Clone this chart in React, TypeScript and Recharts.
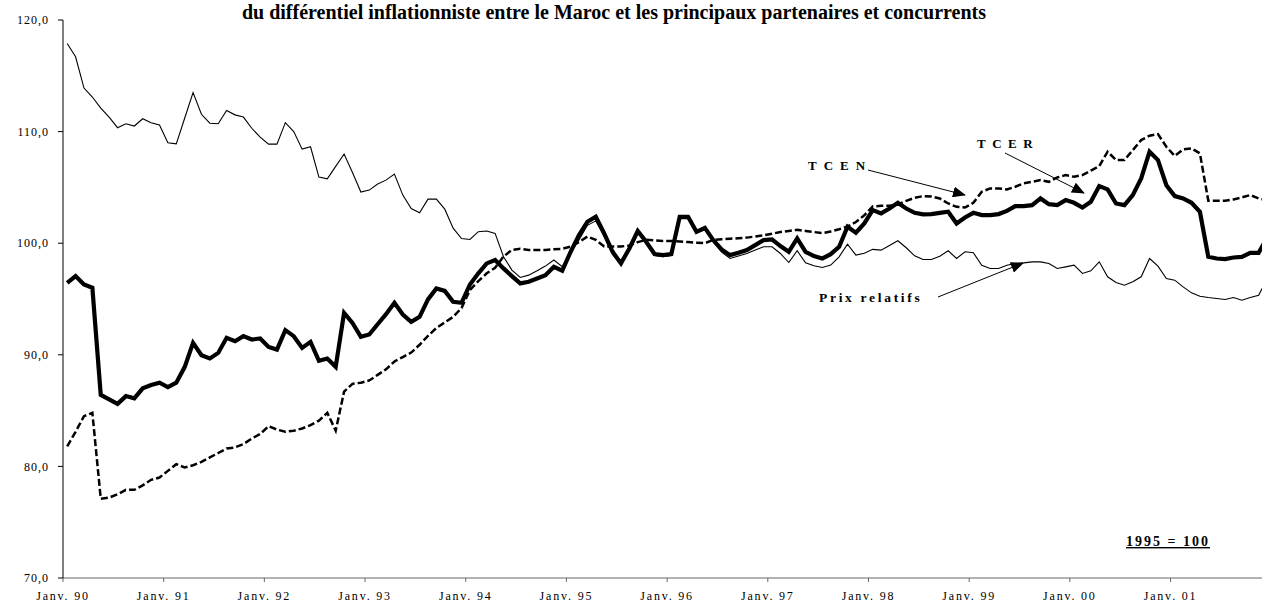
import { LineChart, Line, XAxis, YAxis } from 'recharts';

// Indices mensuels, janv. 1990 -> déc. 2001 (1995 = 100)
const yearLabels = ['90', '91', '92', '93', '94', '95', '96', '97', '98', '99', '00', '01'];

const tcer = [
  96.45, 97.05, 96.3, 96.0, 86.4, 86.0, 85.6, 86.3, 86.1, 87.0, 87.3, 87.5,
  87.1, 87.5, 88.9, 91.07, 89.96, 89.67, 90.17, 91.52, 91.22, 91.67, 91.37, 91.46,
  90.71, 90.47, 92.21, 91.67, 90.62, 91.16, 89.46, 89.67, 88.92, 93.76, 92.86, 91.61,
  91.82, 92.74, 93.64, 94.66, 93.61, 92.95, 93.4, 94.96, 95.94, 95.73, 94.75, 94.66,
  96.3, 97.3, 98.19, 98.49, 97.74, 97.05, 96.4, 96.55, 96.84, 97.14, 97.89, 97.53,
  99.23, 100.73, 101.92, 102.37, 100.88, 99.23, 98.19, 99.53, 101.09, 100.13, 99.03, 98.94,
  99.02, 102.37, 102.37, 101.02, 101.38, 100.28, 99.44, 98.93, 99.14, 99.38, 99.83, 100.28,
  100.34, 99.74, 99.23, 100.43, 99.23, 98.84, 98.63, 99.02, 99.68, 101.47, 100.94, 101.77,
  102.97, 102.67, 103.11, 103.62, 103.11, 102.72, 102.58, 102.61, 102.72, 102.82, 101.77, 102.31,
  102.72, 102.52, 102.52, 102.61, 102.9, 103.32, 103.32, 103.41, 104.01, 103.5, 103.41, 103.86,
  103.62, 103.2, 103.71, 105.12, 104.82, 103.56, 103.41, 104.31, 105.8, 108.2, 107.45, 105.2,
  104.22, 104.01, 103.62, 102.81, 98.78, 98.63, 98.57, 98.72, 98.78, 99.14, 99.14, 100.5,
];

const tcen = [
  81.8, 83.1, 84.5, 84.8, 77.1, 77.2, 77.5, 77.9, 77.9, 78.3, 78.8, 79.0,
  79.6, 80.2, 79.9, 80.1, 80.4, 80.8, 81.2, 81.6, 81.7, 82.0, 82.5, 82.9,
  83.6, 83.3, 83.1, 83.2, 83.4, 83.7, 84.1, 84.8, 83.2, 86.7, 87.4, 87.5,
  87.7, 88.2, 88.7, 89.4, 89.8, 90.2, 90.9, 91.7, 92.4, 92.9, 93.4, 94.2,
  95.8, 96.6, 97.3, 97.8, 98.8, 99.4, 99.5, 99.4, 99.4, 99.4, 99.45, 99.5,
  99.7, 100.1, 100.6, 100.3, 99.7, 99.7, 99.7, 99.8, 100.1, 100.3, 100.25, 100.2,
  100.2, 100.15, 100.1, 100.05, 100.0, 100.3, 100.35, 100.4, 100.45, 100.5, 100.6, 100.7,
  100.85, 101.0, 101.1, 101.2, 101.1, 101.0, 100.9, 101.05, 101.25, 101.5, 101.9, 102.5,
  103.3, 103.35, 103.35, 103.47, 103.8, 104.07, 104.22, 104.19, 104.01, 103.56, 103.26, 103.2,
  103.62, 104.61, 104.91, 104.91, 104.82, 105.06, 105.36, 105.5, 105.65, 105.5, 105.89, 106.1,
  105.95, 106.1, 106.5, 106.91, 108.2, 107.45, 107.45, 108.34, 109.24, 109.63, 109.78, 108.64,
  107.81, 108.4, 108.5, 108.05, 103.8, 103.8, 103.8, 103.92, 104.1, 104.31, 104.01, 103.86,
];

const prixRelatifs = [
  117.9, 116.7, 113.9, 113.1, 112.1, 111.3, 110.35, 110.7, 110.5, 111.15, 110.8, 110.6,
  109.0, 108.9, 111.2, 113.5, 111.55, 110.75, 110.7, 111.9, 111.5, 111.3, 110.3, 109.5,
  108.88, 108.88, 110.8, 110.0, 108.43, 108.64, 105.92, 105.77, 106.88, 107.99, 106.34, 104.58,
  104.76, 105.3, 105.65, 106.19, 104.31, 103.11, 102.73, 103.95, 103.95, 103.05, 101.35, 100.42,
  100.33, 101.03, 101.09, 100.88, 98.79, 97.59, 96.93, 97.14, 97.53, 97.95, 98.49, 97.9,
  99.2, 100.3, 101.6, 102.0, 100.6, 99.0, 98.1, 99.4, 100.9, 100.0, 98.9, 98.8,
  98.9, 102.2, 102.2, 100.9, 101.2, 100.1, 99.2, 98.63, 98.85, 99.08, 99.4, 99.68,
  99.68, 99.08, 98.27, 99.32, 98.24, 97.98, 97.83, 98.04, 98.78, 99.92, 98.93, 99.1,
  99.45, 99.38, 99.8, 100.22, 99.59, 98.87, 98.54, 98.54, 98.84, 99.32, 98.63, 99.23,
  99.14, 98.03, 97.73, 97.73, 98.03, 98.18, 98.24, 98.33, 98.33, 98.18, 97.73, 97.88,
  98.03, 97.29, 97.52, 98.33, 96.99, 96.48, 96.24, 96.54, 96.99, 98.63, 97.94, 96.84,
  96.69, 96.09, 95.55, 95.25, 95.13, 95.04, 94.95, 95.13, 94.89, 95.13, 95.34, 96.8,
];

const yTicks = [70, 80, 90, 100, 110, 120];

const data = tcer.map((v, i) => ({
  i,
  tcer: v,
  tcen: tcen[i],
  prix: prixRelatifs[i],
}));

// ticks on the January boundaries
const xTicks = yearLabels.map((_, k) => k * 12 - 0.5);

const serif = '"Liberation Serif", "Times New Roman", serif';

export default function App() {
  return (
    <div
      style={{
        position: 'absolute',
        left: 0,
        top: 0,
        width: 1262,
        height: 603,
        overflow: 'hidden',
        background: '#fff',
        fontFamily: serif,
      }}
    >
      <LineChart
        width={1262}
        height={603}
        data={data}
        margin={{ top: 20, right: 0, bottom: 0, left: 0 }}
      >
        <XAxis
          type="number"
          dataKey="i"
          domain={[-0.5, 142.4]}
          allowDataOverflow
          ticks={xTicks}
          interval={0}
          tickFormatter={(v: number) => `Janv. ${yearLabels[Math.round((v + 0.5) / 12)]}`}
          height={25}
          tickSize={4}
          tickMargin={9}
          stroke="#666"
          tick={{ fill: '#000', fontSize: 12, fontFamily: serif, letterSpacing: 1.8 }}
        />
        <YAxis
          type="number"
          domain={[70, 120]}
          ticks={yTicks}
          interval={0}
          width={63}
          tickSize={5}
          tickMargin={9}
          stroke="#000"
          tickFormatter={(v: number) => v.toFixed(1).replace('.', ',')}
          tick={{ fill: '#000', fontSize: 12, fontFamily: serif, letterSpacing: 1 }}
        />
        <Line
          type="linear"
          dataKey="prix"
          stroke="#000"
          strokeWidth={1.1}
          dot={false}
          isAnimationActive={false}
        />
        <Line
          type="linear"
          dataKey="tcen"
          stroke="#000"
          strokeWidth={2.5}
          strokeDasharray="7 3"
          dot={false}
          isAnimationActive={false}
        />
        <Line
          type="linear"
          dataKey="tcer"
          stroke="#000"
          strokeWidth={4.2}
          dot={false}
          isAnimationActive={false}
        />
      </LineChart>

      {/* annotations */}
      <svg
        width={1262}
        height={603}
        style={{ position: 'absolute', left: 0, top: 0, pointerEvents: 'none' }}
      >
        <defs>
          <marker
            id="head"
            viewBox="0 0 13 11"
            refX="12"
            refY="5.5"
            markerWidth="13"
            markerHeight="11"
            markerUnits="userSpaceOnUse"
            orient="auto"
          >
            <path d="M0,0 L13,5.5 L0,11 z" fill="#000" />
          </marker>
        </defs>
        <text
          x={614}
          y={19}
          textAnchor="middle"
          fontSize={20}
          fontWeight="bold"
          fontFamily={serif}
        >
          du différentiel inflationniste entre le Maroc et les principaux partenaires et concurrents
        </text>

        <text x={808} y={170} fontSize={13} fontWeight="bold" letterSpacing={7} fontFamily={serif}>
          TCEN
        </text>
        <line x1={868} y1={170} x2={965} y2={195} stroke="#000" strokeWidth={1} markerEnd="url(#head)" />

        <text x={977} y={148} fontSize={13} fontWeight="bold" letterSpacing={6.5} fontFamily={serif}>
          TCER
        </text>
        <line x1={1005} y1={153} x2={1084} y2={193} stroke="#000" strokeWidth={1} markerEnd="url(#head)" />

        <text x={819} y={302} fontSize={13.5} fontWeight="bold" letterSpacing={2.7} fontFamily={serif}>
          Prix relatifs
        </text>
        <line x1={938} y1={297} x2={1023} y2={263} stroke="#000" strokeWidth={1} markerEnd="url(#head)" />

        <text
          x={1168}
          y={546}
          textAnchor="middle"
          fontSize={14}
          fontWeight="bold"
          letterSpacing={2}
          textDecoration="underline"
          fontFamily={serif}
        >
          1995 = 100
        </text>
      </svg>
    </div>
  );
}
